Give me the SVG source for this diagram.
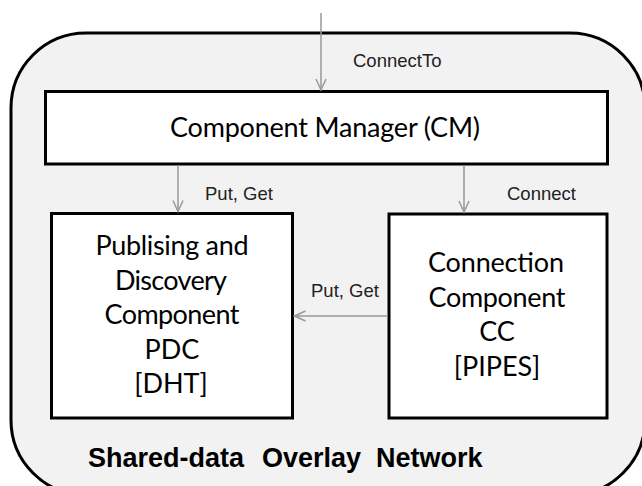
<svg xmlns="http://www.w3.org/2000/svg" width="642" height="486" viewBox="0 0 642 486">
<style>
.box{fill:#ffffff;stroke:#000000;stroke-width:3}
.big{font-family:Lato,"Open Sans",sans-serif;font-size:27px;fill:#000000;text-anchor:middle}
.lbl{font-family:"Liberation Sans",Arial,sans-serif;font-size:18.5px;fill:#222222}
.conn{stroke:#999999;stroke-width:1.5;fill:none;marker-end:url(#arr)}
</style>
<defs>
<marker id="arr" markerUnits="userSpaceOnUse" markerWidth="14" markerHeight="14" viewBox="-12 -7 14 14" refX="0" refY="0" orient="auto">
<path d="M-11,-5 L0,0 L-11,5" fill="none" stroke="#999999" stroke-width="1.5"/>
</marker>
</defs>
<rect width="642" height="486" fill="#ffffff"/>
<g id="overlay">
<rect x="11" y="33" width="634" height="462" rx="75" ry="75" fill="#f2f2f2" stroke="#000000" stroke-width="3"/>
<text font-family="Liberation Sans,Arial,sans-serif" font-size="27" font-weight="bold" fill="#000000" y="467"><tspan x="88">Shared-data</tspan><tspan x="262">Overlay</tspan><tspan x="376">Network</tspan></text>
</g>
<g id="cm">
<rect class="box" x="45.5" y="91.5" width="562" height="72.5"/>
<text class="big" x="325" y="137" textLength="310">Component Manager (CM)</text>
</g>
<g id="pdc">
<rect class="box" x="51.5" y="213.5" width="241" height="204.5"/>
<text class="big" x="172" y="255" textLength="153">Publising and</text>
<text class="big" x="171" y="289.5" textLength="112">Discovery</text>
<text class="big" x="172" y="324" textLength="135">Component</text>
<text class="big" x="172" y="358.5">PDC</text>
<text class="big" x="171" y="393">[DHT]</text>
</g>
<g id="cc">
<rect class="box" x="389" y="214" width="218" height="204"/>
<text class="big" x="496" y="272" textLength="136">Connection</text>
<text class="big" x="497" y="306.5" textLength="137">Component</text>
<text class="big" x="497" y="341">CC</text>
<text class="big" x="497" y="375.5">[PIPES]</text>
</g>
<g id="connectors">
<line class="conn" x1="321" y1="13" x2="321" y2="90"/>
<line class="conn" x1="178" y1="165.5" x2="178" y2="211.5"/>
<line class="conn" x1="464" y1="165.5" x2="464" y2="212"/>
<line class="conn" x1="387.5" y1="316" x2="294.5" y2="316"/>
<text class="lbl" x="353" y="66.5">ConnectTo</text>
<text class="lbl" x="205" y="200">Put, Get</text>
<text class="lbl" x="507" y="200">Connect</text>
<text class="lbl" x="311" y="297">Put, Get</text>
</g>
</svg>
